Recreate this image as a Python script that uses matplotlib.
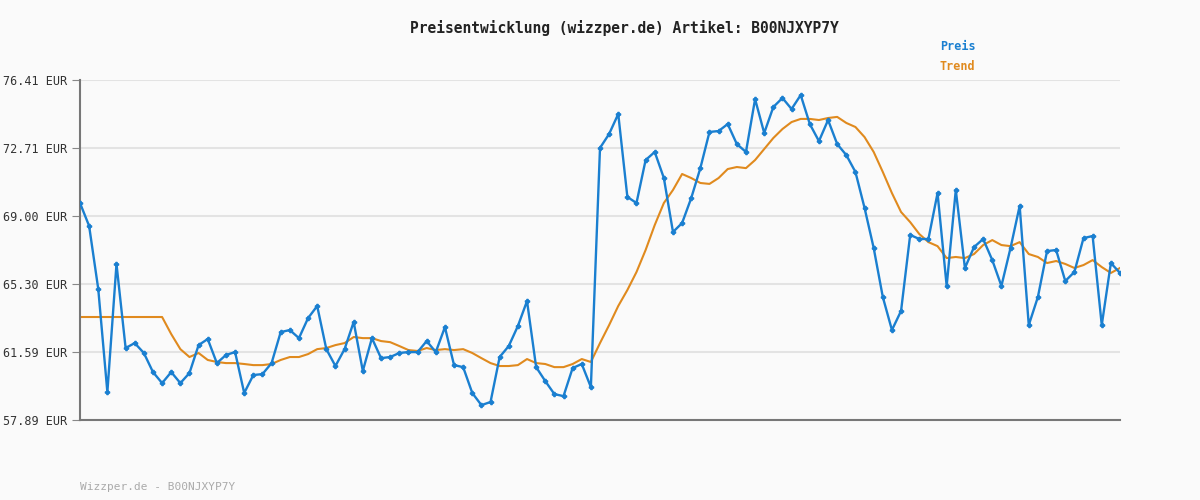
import matplotlib
matplotlib.use("Agg")
import matplotlib.pyplot as plt
import numpy as np

title = "Preisentwicklung (wizzper.de) Artikel: B00NJXYP7Y"
footer = "Wizzper.de - B00NJXYP7Y"
yticks = [57.89, 61.59, 65.30, 69.00, 72.71, 76.41]

preis = [69.71, 68.46, 65.03, 59.41, 66.39, 61.81, 62.08, 61.54, 60.50, 59.90,
         60.50, 59.90, 60.45, 61.97, 62.30, 60.99, 61.43, 61.59, 59.36, 60.34,
         60.39, 60.99, 62.68, 62.79, 62.35, 63.44, 64.10, 61.75, 60.83, 61.75,
         63.23, 60.56, 62.35, 61.26, 61.32, 61.54, 61.59, 61.59, 62.19, 61.59,
         62.95, 60.88, 60.77, 59.36, 58.70, 58.87, 61.32, 61.92, 63.01, 64.37,
         60.77, 60.01, 59.30, 59.19, 60.72, 60.94, 59.68, 72.71, 73.47, 74.56,
         70.04, 69.71, 72.05, 72.49, 71.07, 68.13, 68.62, 69.98, 71.61, 73.58,
         73.63, 74.01, 72.92, 72.49, 75.37, 73.52, 74.94, 75.43, 74.83, 75.59,
         74.01, 73.08, 74.23, 72.92, 72.32, 71.40, 69.44, 67.26, 64.59, 62.79,
         63.83, 67.97, 67.75, 67.75, 70.25, 65.19, 70.42, 66.17, 67.31, 67.75,
         66.60, 65.19, 67.26, 69.55, 63.06, 64.59, 67.09, 67.15, 65.46, 65.95,
         67.80, 67.91, 63.06, 66.44, 65.90]

trend = [63.50, 63.50, 63.50, 63.50, 63.50, 63.50, 63.50, 63.50, 63.50, 63.50,
         62.57, 61.75, 61.32, 61.54, 61.16, 61.05, 60.99, 60.99, 60.94, 60.88,
         60.88, 60.94, 61.16, 61.32, 61.32, 61.48, 61.75, 61.81, 61.97, 62.08,
         62.41, 62.35, 62.35, 62.19, 62.13, 61.92, 61.70, 61.65, 61.81, 61.70,
         61.75, 61.70, 61.75, 61.54, 61.26, 60.99, 60.83, 60.83, 60.88, 61.21,
         60.99, 60.94, 60.77, 60.77, 60.94, 61.21, 61.05, 62.08, 63.06, 64.10,
         64.97, 65.95, 67.15, 68.51, 69.71, 70.42, 71.29, 71.07, 70.80, 70.75,
         71.07, 71.56, 71.67, 71.61, 72.05, 72.65, 73.25, 73.74, 74.12, 74.29,
         74.29, 74.23, 74.34, 74.40, 74.07, 73.85, 73.30, 72.49, 71.40, 70.25,
         69.22, 68.67, 68.02, 67.58, 67.36, 66.71, 66.77, 66.71, 66.93, 67.42,
         67.69, 67.42, 67.36, 67.58, 66.93, 66.77, 66.44, 66.55, 66.39, 66.17,
         66.33, 66.60, 66.22, 65.90, 66.17]

blue = "#1a7fd0"
orange = "#e08a1e"
x = np.arange(len(preis))

fig = plt.figure(figsize=(12, 5), dpi=100, facecolor="#fafafa")
ax = fig.add_axes([80/1200, 80/500, 1040/1200, 340/500], facecolor="#fafafa")
ax.plot(x, trend, color=orange, lw=1.5, zorder=2)
ax.plot(x, preis, color=blue, lw=1.7, marker="P", ms=3, zorder=3)

ax.set_xlim(0, len(preis) - 1)
ax.set_ylim(yticks[0], yticks[-1])
ax.set_yticks(yticks)
ax.set_yticklabels([f"{v:.2f} EUR" for v in yticks], family="DejaVu Sans Mono", fontsize=8.5, color="#333333")
ax.set_xticks([])
ax.tick_params(axis="y", length=6, color="#888888")
ax.grid(axis="y", color="#e3e3e3", lw=1.5)
ax.set_axisbelow(True)
for s in ["top", "right"]:
    ax.spines[s].set_visible(False)
for s in ["left", "bottom"]:
    ax.spines[s].set_color("#777777")
    ax.spines[s].set_linewidth(1.5)

fig.text(0.52, 1 - 28/500, title, ha="center", va="center", family="DejaVu Sans Mono",
         fontsize=10.5, color="#222222", weight="semibold")
fig.text(940/1200, 1 - 46/500, "Preis", ha="left", va="center", family="DejaVu Sans Mono", fontsize=8.5, color=blue, weight="bold")
fig.text(940/1200, 1 - 67/500, "Trend", ha="left", va="center", family="DejaVu Sans Mono", fontsize=8.5, color=orange, weight="bold")
fig.text(80/1200, 1 - 487/500, footer, ha="left", va="center", family="DejaVu Sans Mono", fontsize=8, color="#aaaaaa")

fig.savefig("out.png", dpi=100, facecolor=fig.get_facecolor())
